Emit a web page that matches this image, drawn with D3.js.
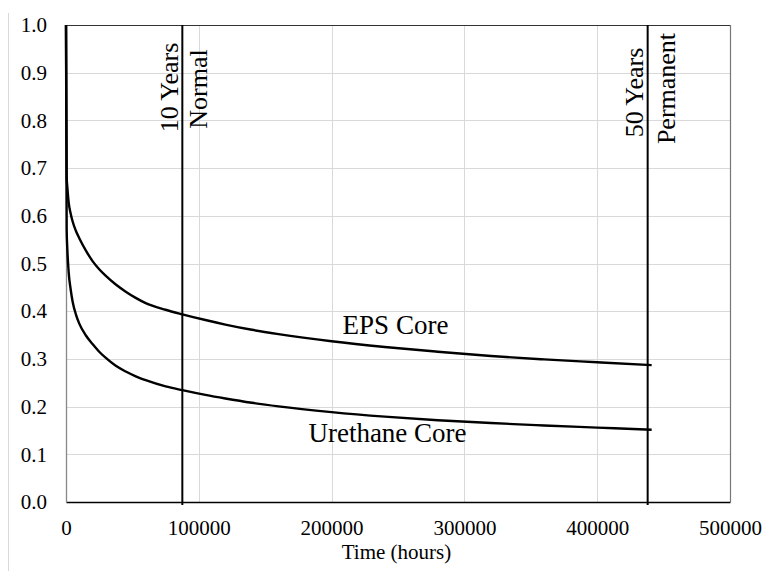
<!DOCTYPE html>
<html>
<head>
<meta charset="utf-8">
<script src="https://cdn.jsdelivr.net/npm/d3@7"></script>
<style>
  html, body { margin: 0; padding: 0; background: #fff; }
  svg { display: block; }
  text { font-family: "Liberation Serif", "Times New Roman", serif; fill: #000; }
</style>
</head>
<body>
<svg id="chart" width="764" height="571"></svg>
<script>
// ---- data ----
const hours = [0, 500, 1000, 2000, 3500, 5000, 7500, 10000, 15000, 20000, 25000, 30000,
  37500, 45000, 52500, 60000, 75000, 87600, 105000, 120000, 140000, 160000,
  200000, 240000, 280000, 320000, 360000, 400000, 441000];
const epsCore = [1.0, 0.68, 0.66, 0.628, 0.605, 0.588, 0.568, 0.553, 0.527, 0.505, 0.488, 0.474,
  0.456, 0.441, 0.428, 0.417, 0.403, 0.3935, 0.3815, 0.372, 0.361, 0.352,
  0.337, 0.325, 0.315, 0.306, 0.299, 0.293, 0.287];
const urethaneCore = [1.0, 0.57, 0.53, 0.482, 0.446, 0.42, 0.393, 0.374, 0.349, 0.331, 0.315, 0.302,
  0.2855, 0.2735, 0.2635, 0.2555, 0.2425, 0.2345, 0.2245, 0.217, 0.208, 0.2005,
  0.1885, 0.179, 0.1715, 0.1655, 0.1605, 0.156, 0.1515];
const seriesNames = ["EPS Core", "Urethane Core"];
const xTicks = [0, 100000, 200000, 300000, 400000, 500000];
const yTicks = [0, 0.1, 0.2, 0.3, 0.4, 0.5, 0.6, 0.7, 0.8, 0.9, 1.0];
const markers = [87600, 438000];
const markerLeftLabels = ["10 Years", "50 Years"];
const markerRightLabels = ["Normal", "Permanent"];
const xTitle = "Time (hours)";

// ---- layout ----
const FONT = '"Liberation Serif", "Times New Roman", serif';
const svg = d3.select("#chart");
const L = 66, R = 730, T = 25, B = 502;
const x = d3.scaleLinear().domain([0, 500000]).range([L, R]);
const y = d3.scaleLinear().domain([0, 1]).range([B, T]);

// outer chart border fragment
svg.append("line").attr("x1", 8.5).attr("x2", 8.5).attr("y1", 13).attr("y2", 571)
  .attr("stroke", "#d9d9d9").attr("stroke-width", 1);

// gridlines
svg.append("g").selectAll("line").data(yTicks.slice(1)).join("line")
  .attr("x1", L).attr("x2", R)
  .attr("y1", d => Math.round(y(d)) + 0.5).attr("y2", d => Math.round(y(d)) + 0.5)
  .attr("stroke", "#d9d9d9").attr("stroke-width", 1);
svg.append("g").selectAll("line").data(xTicks.slice(1)).join("line")
  .attr("y1", T).attr("y2", B)
  .attr("x1", d => Math.round(x(d)) + 0.5).attr("x2", d => Math.round(x(d)) + 0.5)
  .attr("stroke", "#d9d9d9").attr("stroke-width", 1);

// plot border
svg.append("line").attr("x1", L).attr("x2", R).attr("y1", T + 0.5).attr("y2", T + 0.5)
  .attr("stroke", "#333").attr("stroke-width", 1);
svg.append("line").attr("x1", R + 0.5).attr("x2", R + 0.5).attr("y1", T).attr("y2", B)
  .attr("stroke", "#777").attr("stroke-width", 1.2);

// axes
const xAxis = d3.axisBottom(x).tickValues(xTicks).tickSize(0).tickPadding(18)
  .tickFormat(d3.format("d"));
const gx = svg.append("g").attr("transform", `translate(0,${B})`).call(xAxis)
  .attr("font-family", FONT).attr("font-size", 21);
gx.select(".domain").attr("stroke", "#000").attr("stroke-width", 1.3);
gx.selectAll("text").attr("fill", "#000");

const yAxis = d3.axisLeft(y).tickValues(yTicks).tickSize(0).tickPadding(19)
  .tickFormat(d3.format(".1f"));
const gy = svg.append("g").attr("transform", `translate(${L},0)`).call(yAxis)
  .attr("font-family", FONT).attr("font-size", 21);
gy.select(".domain").attr("stroke", "#888").attr("stroke-width", 1.3);
gy.selectAll("text").attr("fill", "#000");

// marker lines
svg.append("g").selectAll("line").data(markers).join("line")
  .attr("x1", d => x(d)).attr("x2", d => x(d))
  .attr("y1", T).attr("y2", B + 3)
  .attr("stroke", "#000").attr("stroke-width", 2);

// series lines
const line = d3.line().x(d => x(d[0])).y(d => y(d[1])).curve(d3.curveMonotoneX);
[epsCore, urethaneCore].forEach(vals => {
  svg.append("path")
    .datum(hours.map((h, i) => [h, vals[i]]))
    .attr("d", line)
    .attr("fill", "none").attr("stroke", "#000").attr("stroke-width", 2.4)
    .attr("stroke-linejoin", "round");
});

// marker labels (rotated)
const leftCenters = [87.5, 92.5], rightCenters = [89, 88.5];
const rightOffsets = [24.5, 27];
markers.forEach((m, i) => {
  svg.append("text")
    .attr("transform", `translate(${x(m) - 4.8},${leftCenters[i]}) rotate(-90)`)
    .attr("text-anchor", "middle").attr("font-size", 26)
    .text(markerLeftLabels[i]);
  svg.append("text")
    .attr("transform", `translate(${x(m) + rightOffsets[i]},${rightCenters[i]}) rotate(-90)`)
    .attr("text-anchor", "middle").attr("font-size", 26)
    .text(markerRightLabels[i]);
});

// series labels
svg.append("text").attr("x", 395.5).attr("y", 334).attr("text-anchor", "middle")
  .attr("font-size", 27).text(seriesNames[0]);
svg.append("text").attr("x", 387.5).attr("y", 441.5).attr("text-anchor", "middle")
  .attr("font-size", 27).text(seriesNames[1]);

// axis title
svg.append("text").attr("x", 396.5).attr("y", 559).attr("text-anchor", "middle")
  .attr("font-size", 21).text(xTitle);
</script>
</body>
</html>
